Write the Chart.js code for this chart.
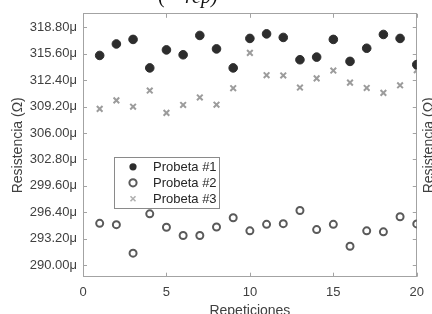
<!DOCTYPE html>
<html lang="es">
<head>
    <meta charset="UTF-8">
    <title>Resistencia vs Repeticiones</title>
    <style>
        html, body { margin: 0; padding: 0; background: #fff; overflow: hidden; }
        #wrap { position: relative; width: 432px; height: 314px; overflow: hidden; }
    </style>
</head>
<body>
    <div id="wrap">
        <canvas id="chart" width="432" height="320"></canvas>
    </div>

    <script src="https://cdn.jsdelivr.net/npm/chart.js"></script>
    <script>
        // data (resistance in micro-ohm)
        const repeticiones = [1, 2, 3, 4, 5, 6, 7, 8, 9, 10, 11, 12, 13, 14, 15, 16, 17, 18, 19, 20];
        const probeta1 = [315.39, 316.78, 317.33, 313.88, 316.06, 315.47, 317.81, 316.18, 313.88, 317.45,
                          318.00, 317.57, 314.87, 315.19, 317.33, 314.67, 316.26, 317.93, 317.45, 314.28];
        const probeta2 = [295.07, 294.91, 291.46, 296.22, 294.60, 293.60, 293.60, 294.63, 295.74, 294.16,
                          294.95, 295.03, 296.62, 294.31, 294.95, 292.29, 294.16, 294.04, 295.86, 295.00];
        const probeta3 = [308.92, 309.95, 309.19, 311.14, 308.44, 309.40, 310.31, 309.43, 311.42, 315.70,
                          313.00, 312.97, 311.50, 312.61, 313.56, 312.10, 311.46, 310.86, 311.78, 313.60];
        const yTicks = [290.00, 293.20, 296.40, 299.60, 302.80, 306.00, 309.20, 312.40, 315.60, 318.80];
        const xTicks = [0, 5, 10, 15, 20];
        const seriesNames = ['Probeta #1', 'Probeta #2', 'Probeta #3'];

        const axisGray = '#a3a3a3';
        const textGray = '#404040';
        const tickFont = { family: 'Liberation Sans, Arial, sans-serif', size: 13 };
        const titleFont = { family: 'Liberation Sans, Arial, sans-serif', size: 14 };

        const styles = [
            { pointStyle: 'circle', pointRadius: 4.3, backgroundColor: '#2d2d2d', borderColor: '#2d2d2d', borderWidth: 1 },
            { pointStyle: 'circle', pointRadius: 3.5, backgroundColor: 'rgba(0,0,0,0)', borderColor: '#5a5a5a', borderWidth: 2 },
            { pointStyle: 'crossRot', pointRadius: 4, backgroundColor: '#9c9c9c', borderColor: '#9c9c9c', borderWidth: 2 }
        ];

        const toPoints = vals => vals.map((v, i) => ({ x: repeticiones[i], y: v }));
        const datasets = [probeta1, probeta2, probeta3].map((vals, i) => Object.assign({
            label: seriesNames[i],
            data: toPoints(vals),
            showLine: false,
            pointHoverRadius: styles[i].pointRadius
        }, styles[i]));

        // tick marks pointing into the plot box, like the original
        const innerTicks = {
            id: 'innerTicks',
            afterDraw(chart) {
                const { ctx, chartArea: a, scales } = chart;
                const len = 4;
                ctx.save();
                ctx.strokeStyle = axisGray;
                ctx.lineWidth = 1;
                ctx.beginPath();
                scales.x.ticks.forEach(t => {
                    const px = Math.round(scales.x.getPixelForValue(t.value)) + 0.5;
                    ctx.moveTo(px, a.bottom); ctx.lineTo(px, a.bottom - len);
                    ctx.moveTo(px, a.top); ctx.lineTo(px, a.top + len);
                });
                scales.y.ticks.forEach(t => {
                    const py = Math.round(scales.y.getPixelForValue(t.value)) + 0.5;
                    ctx.moveTo(a.left, py); ctx.lineTo(a.left + len, py);
                    ctx.moveTo(a.right, py); ctx.lineTo(a.right - len, py);
                });
                ctx.stroke();
                ctx.restore();
            }
        };

        // legend box inside the plot, right-side label and the clipped title
        const extras = {
            id: 'extras',
            afterDraw(chart) {
                const { ctx, chartArea: a } = chart;
                ctx.save();

                // legend
                const bx = a.left + 31, by = a.top + 143, bw = 105, bh = 51;
                ctx.fillStyle = '#fff';
                ctx.fillRect(bx, by, bw, bh);
                ctx.strokeStyle = '#8a8a8a';
                ctx.lineWidth = 1;
                ctx.strokeRect(Math.round(bx) + 0.5, Math.round(by) + 0.5, bw, bh);
                ctx.font = '13px Liberation Sans, Arial, sans-serif';
                ctx.textBaseline = 'middle';
                ctx.textAlign = 'left';
                seriesNames.forEach((name, i) => {
                    const cy = by + 10 + i * 16;
                    const mx = bx + 19;
                    const s = styles[i];
                    ctx.beginPath();
                    if (i === 0) {
                        ctx.fillStyle = s.backgroundColor;
                        ctx.arc(mx, cy, 3.6, 0, Math.PI * 2);
                        ctx.fill();
                    } else if (i === 1) {
                        ctx.strokeStyle = s.borderColor;
                        ctx.lineWidth = 2;
                        ctx.arc(mx, cy, 3.6, 0, Math.PI * 2);
                        ctx.stroke();
                    } else {
                        ctx.strokeStyle = '#b0b0b0';
                        ctx.lineWidth = 1.6;
                        ctx.moveTo(mx - 2.5, cy - 2.5); ctx.lineTo(mx + 2.5, cy + 2.5);
                        ctx.moveTo(mx + 2.5, cy - 2.5); ctx.lineTo(mx - 2.5, cy + 2.5);
                        ctx.stroke();
                    }
                    ctx.fillStyle = '#262626';
                    ctx.fillText(name, bx + 39, cy + 1);
                });

                // right axis label (mostly outside the picture)
                ctx.save();
                ctx.translate(a.right + 12.5, (a.top + a.bottom) / 2);
                ctx.rotate(-Math.PI / 2);
                ctx.fillStyle = textGray;
                ctx.font = '14px Liberation Sans, Arial, sans-serif';
                ctx.textAlign = 'center';
                ctx.textBaseline = 'middle';
                ctx.fillText('Resistencia (\u03A9)', 0, 0);
                ctx.restore();

                // title, cut by the top edge
                ctx.fillStyle = '#111';
                ctx.textAlign = 'left';
                ctx.textBaseline = 'alphabetic';
                ctx.font = '20px Liberation Serif, serif';
                ctx.fillText('(', 158, a.top - 10.5);
                ctx.font = 'italic 20px Liberation Serif, serif';
                ctx.fillText('\u2003rep)', 165, a.top - 10.5);

                ctx.restore();
            }
        };

        new Chart(document.getElementById('chart'), {
            type: 'scatter',
            data: { datasets },
            options: {
                responsive: false,
                animation: false,
                layout: { padding: 0 },
                plugins: {
                    legend: { display: false },
                    tooltip: { enabled: false }
                },
                scales: {
                    x: {
                        type: 'linear',
                        position: 'bottom',
                        min: 0,
                        max: 20,
                        afterBuildTicks: s => { s.ticks = xTicks.map(v => ({ value: v })); },
                        afterFit: s => { s.height = 320 - 276.7; },
                        grid: { display: false, drawTicks: false },
                        border: { display: true, color: axisGray, width: 1 },
                        ticks: { color: textGray, font: tickFont, padding: 8, maxRotation: 0 },
                        title: { display: true, text: 'Repeticiones', color: textGray, font: titleFont, padding: { top: 0, bottom: 0 } }
                    },
                    x2: {
                        type: 'linear',
                        position: 'top',
                        min: 0,
                        max: 20,
                        afterFit: s => { s.height = 9.3; },
                        grid: { display: false, drawTicks: false },
                        border: { display: true, color: axisGray, width: 1 },
                        ticks: { display: false }
                    },
                    y: {
                        type: 'linear',
                        position: 'left',
                        min: 288.61,
                        max: 320.43,
                        afterBuildTicks: s => { s.ticks = yTicks.map(v => ({ value: v })); },
                        afterFit: s => { s.width = 83; },
                        grid: { display: false, drawTicks: false },
                        border: { display: true, color: axisGray, width: 1 },
                        ticks: {
                            color: textGray,
                            font: tickFont,
                            padding: 6,
                            callback: v => v.toFixed(2) + '\u03BC'
                        },
                        title: { display: true, text: 'Resistencia (\u03A9)', color: textGray, font: titleFont, padding: { top: 10, bottom: 0 } }
                    },
                    y2: {
                        type: 'linear',
                        position: 'right',
                        min: 288.61,
                        max: 320.43,
                        afterFit: s => { s.width = 432 - 418; },
                        grid: { display: false, drawTicks: false },
                        border: { display: true, color: axisGray, width: 1 },
                        ticks: { display: false }
                    }
                }
            },
            plugins: [innerTicks, extras]
        });
    </script>
</body>
</html>
